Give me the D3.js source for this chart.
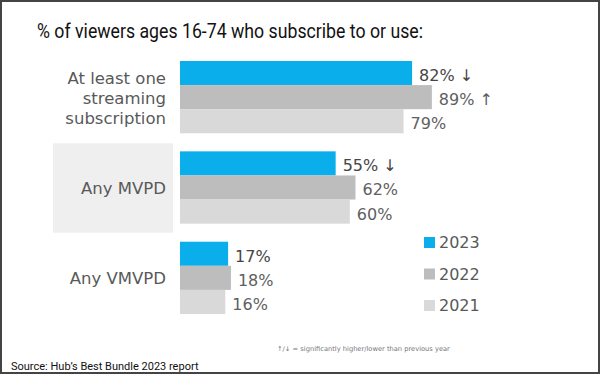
<!DOCTYPE html>
<html>
<head>
<meta charset="utf-8">
<script src="https://cdn.jsdelivr.net/npm/d3@7"></script>
<style>
  body { margin: 0; background: #fff; }
  svg { display: block; }
  .cat { font-family: "DejaVu Sans", sans-serif; font-size: 16.5px; fill: #595959; }
  .val { font-family: "DejaVu Sans", sans-serif; font-size: 16px; fill: #606060; }
  .val.cur { fill: #454545; }
  .leg { font-family: "DejaVu Sans", sans-serif; font-size: 16px; fill: #595959; }
</style>
</head>
<body>
<svg id="chart"></svg>
<script>
const categories = ['At least one streaming subscription', 'Any MVPD', 'Any VMVPD'];
const categoryLines = [['At least one', 'streaming', 'subscription'], ['Any MVPD'], ['Any VMVPD']];
const years = ['2023', '2022', '2021'];
const values2023 = [82, 55, 17];
const values2022 = [89, 62, 18];
const values2021 = [79, 60, 16];
const arrows2023 = ['↓', '↓', ''];
const arrows2022 = ['↑', '', ''];
const arrows2021 = ['', '', ''];

const colors = {'2023': '#0aaeea', '2022': '#bdbdbd', '2021': '#d9d9d9'};

const width = 600, height = 375;

const svg = d3.select('#chart')
    .attr('width', width)
    .attr('height', height);

// frame
svg.append('rect')
    .attr('x', 1).attr('y', 1)
    .attr('width', width - 2).attr('height', height - 3)
    .attr('fill', '#fff')
    .attr('stroke', '#444')
    .attr('stroke-width', 2);

// title (condensed to fit the original width)
svg.append('text')
    .attr('x', 37)
    .attr('y', 38)
    .attr('textLength', 386)
    .attr('lengthAdjust', 'spacingAndGlyphs')
    .style('font-family', 'Roboto, sans-serif')
    .style('font-size', '21px')
    .attr('fill', '#111')
    .text('% of viewers ages 16-74 who subscribe to or use:');

// scales
const x = d3.scaleLinear()
    .domain([0, 100])
    .range([180, 463]);

const y = d3.scaleBand()
    .domain(categories)
    .range([61, 314])
    .paddingInner(0.2)
    .paddingOuter(0);

const yInner = d3.scaleBand()
    .domain(years)
    .range([0, y.bandwidth()]);

const rows = categories.map((c, i) => ({
    category: c,
    lines: categoryLines[i],
    bars: [
        {year: '2023', value: values2023[i], arrow: arrows2023[i]},
        {year: '2022', value: values2022[i], arrow: arrows2022[i]},
        {year: '2021', value: values2021[i], arrow: arrows2021[i]}
    ]
}));

// highlight box behind "Any MVPD"
svg.append('rect')
    .attr('x', 53)
    .attr('y', y('Any MVPD') - 8)
    .attr('width', 120)
    .attr('height', y.bandwidth() + 17)
    .attr('fill', '#efefef');

const group = svg.selectAll('.group')
    .data(rows)
    .enter()
    .append('g')
    .attr('class', 'group')
    .attr('transform', d => `translate(0,${y(d.category)})`);

// bars
group.selectAll('rect')
    .data(d => d.bars)
    .enter()
    .append('rect')
    .attr('x', x(0))
    .attr('y', d => yInner(d.year))
    .attr('width', d => x(d.value) - x(0))
    .attr('height', yInner.bandwidth())
    .attr('fill', d => colors[d.year]);

// value labels
group.selectAll('.val')
    .data(d => d.bars)
    .enter()
    .append('text')
    .attr('class', d => d.year === '2023' ? 'val cur' : 'val')
    .attr('x', d => x(d.value) + 7)
    .attr('y', d => yInner(d.year) + yInner.bandwidth() / 2 + 8)
    .text(d => d.value + '%' + (d.arrow ? ' ' + d.arrow : ''));

// category labels
group.each(function(d) {
    const n = d.lines.length;
    d3.select(this).selectAll('.cat')
        .data(d.lines)
        .enter()
        .append('text')
        .attr('class', 'cat')
        .attr('text-anchor', 'end')
        .attr('x', 166)
        .attr('y', (l, i) => y.bandwidth() / 2 + 6.5 + (i - (n - 1) / 2) * 20)
        .text(l => l);
});

// legend
const legend = svg.selectAll('.legend')
    .data(years)
    .enter()
    .append('g')
    .attr('class', 'legend')
    .attr('transform', (d, i) => `translate(424,${242 + i * 31.5})`);

legend.append('rect')
    .attr('width', 11)
    .attr('height', 11)
    .attr('y', -5)
    .attr('fill', d => colors[d]);

legend.append('text')
    .attr('class', 'leg')
    .attr('x', 15)
    .attr('y', 6)
    .text(d => d);

// footnote
svg.append('text')
    .attr('x', 277)
    .attr('y', 351)
    .style('font-family', '"DejaVu Sans", sans-serif')
    .style('font-size', '6.7px')
    .attr('fill', '#777')
    .text('↑/↓ = significantly higher/lower than previous year');

// source
svg.append('text')
    .attr('x', 11)
    .attr('y', 370)
    .style('font-family', 'Roboto, sans-serif')
    .style('font-size', '11px')
    .attr('fill', '#111')
    .text('Source: Hub’s Best Bundle 2023 report');
</script>
</body>
</html>
